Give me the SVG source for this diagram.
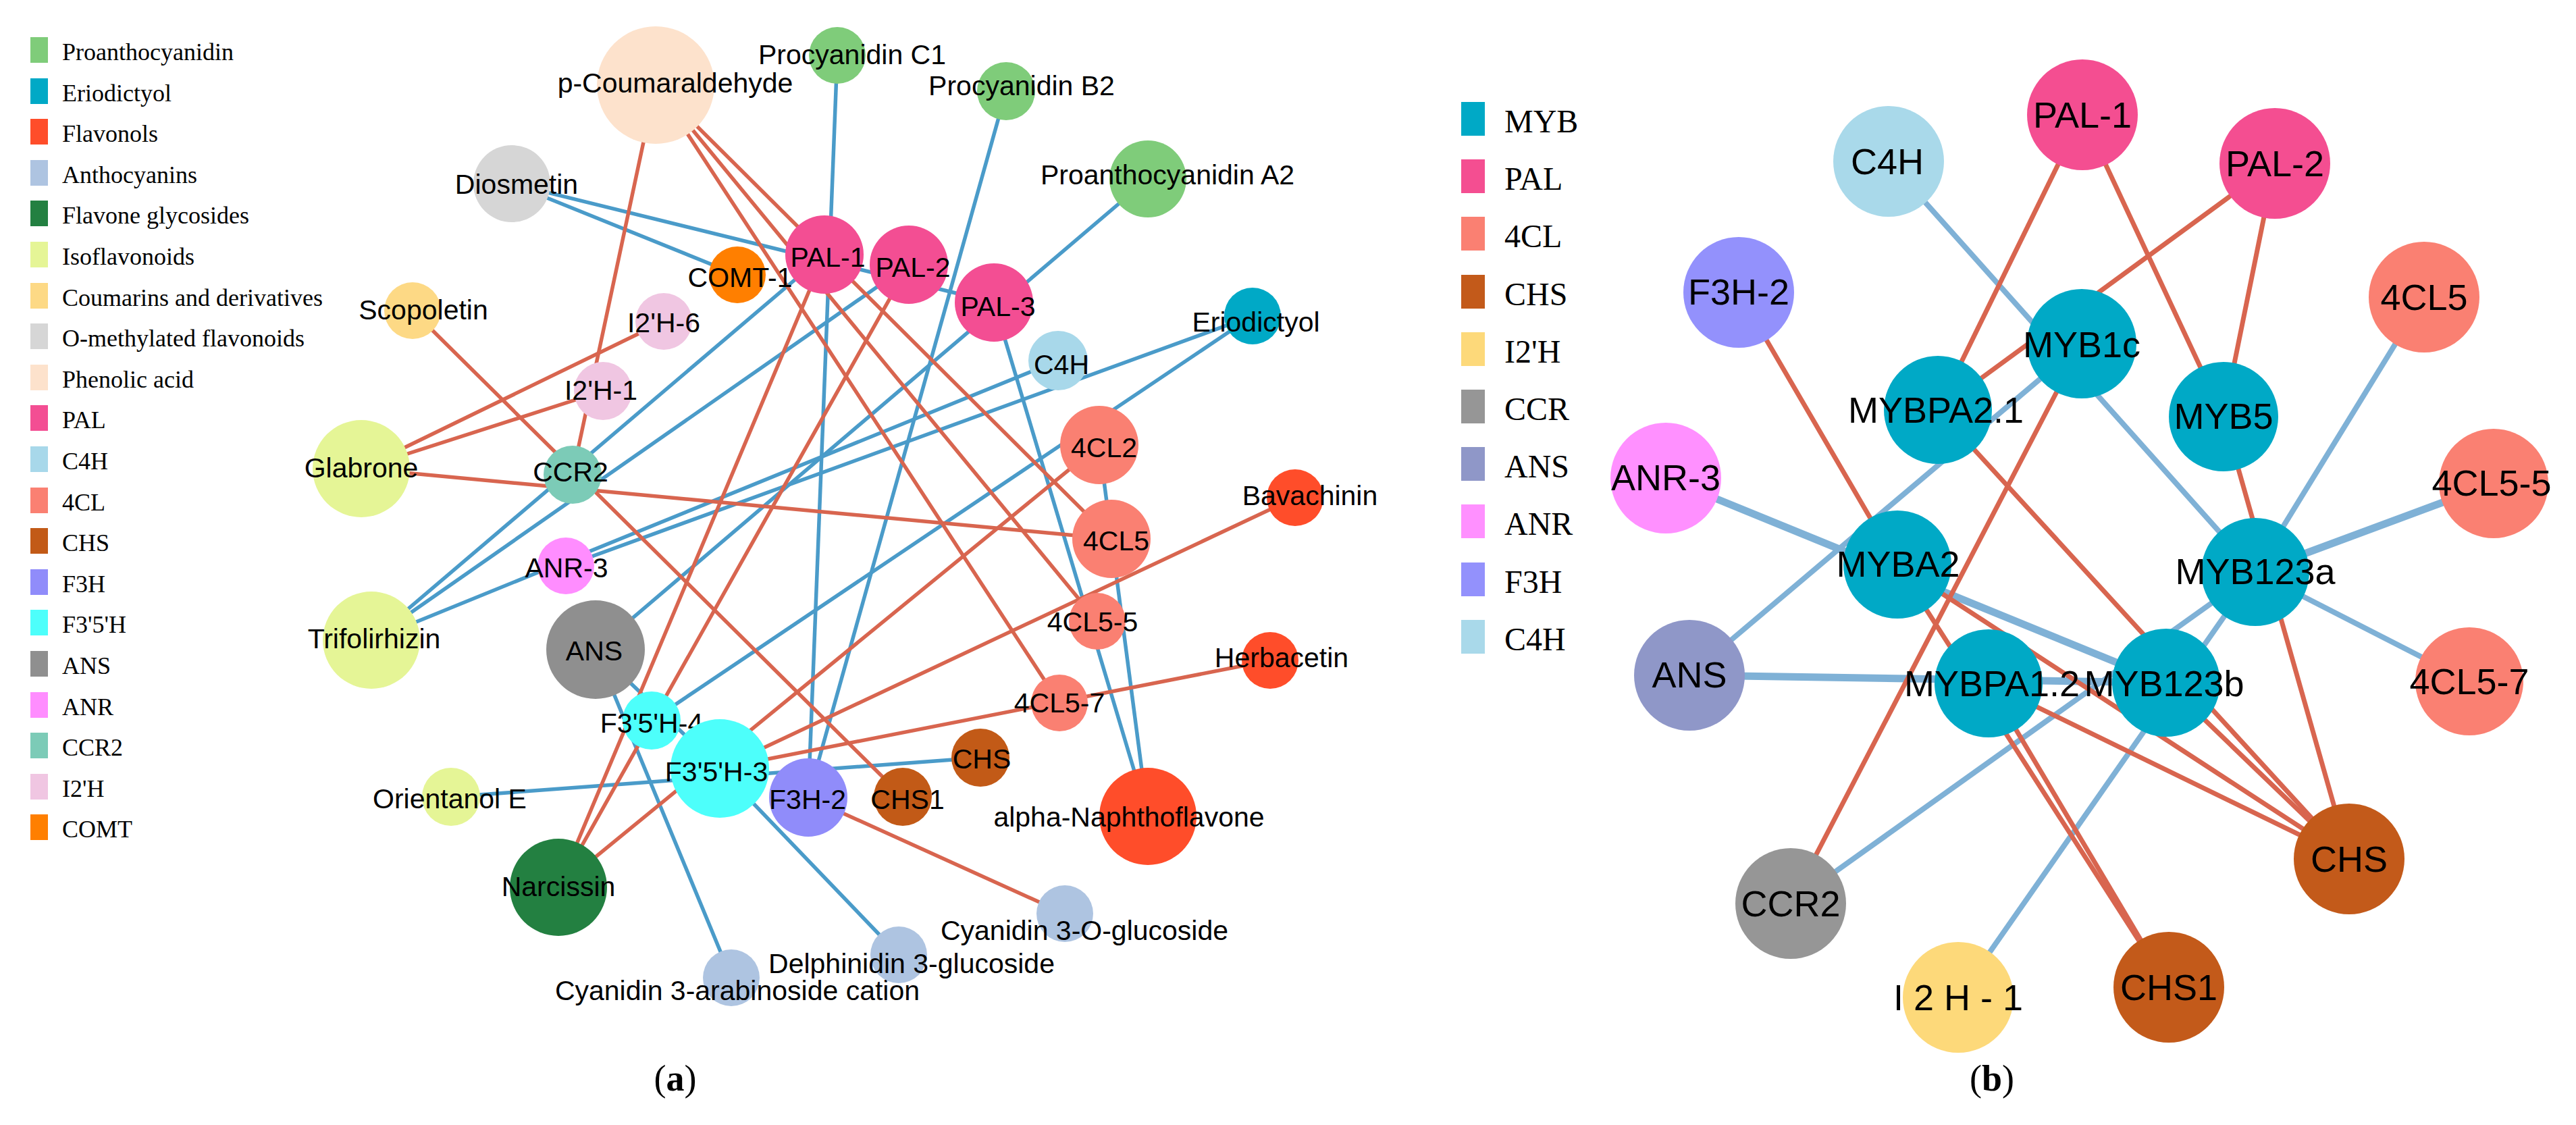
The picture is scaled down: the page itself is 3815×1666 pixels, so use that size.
<svg xmlns="http://www.w3.org/2000/svg" width="3815" height="1666" viewBox="0 0 3815 1666">
<style>
.lg{font-family:"Liberation Serif","Times New Roman",serif;fill:#000}
.la{font-family:"Liberation Sans",Arial,sans-serif;font-size:41px;text-anchor:middle;fill:#000}
.lb{font-family:"Liberation Sans",Arial,sans-serif;font-size:54px;text-anchor:middle;fill:#000}
.ab{stroke:#4a9bc9;stroke-width:5.5;fill:none}
.ar{stroke:#d8654f;stroke-width:5.5;fill:none}
.bb{stroke:#7fb1d6;stroke-width:8;fill:none}
.bbt{stroke:#7fb1d6;stroke-width:11;fill:none}
.br{stroke:#d8654f;stroke-width:7;fill:none}
</style>
<rect width="3815" height="1666" fill="#fff"/>
<g id="legend-a" class="lg" font-size="36">
<rect x="45" y="55" width="26" height="38" fill="#7fcc7a"/><text x="92" y="89">Proanthocyanidin</text>
<rect x="45" y="116" width="26" height="38" fill="#00a9c6"/><text x="92" y="150">Eriodictyol</text>
<rect x="45" y="176" width="26" height="38" fill="#ff4d2a"/><text x="92" y="210">Flavonols</text>
<rect x="45" y="237" width="26" height="38" fill="#aec4e1"/><text x="92" y="271">Anthocyanins</text>
<rect x="45" y="297" width="26" height="38" fill="#238041"/><text x="92" y="331">Flavone glycosides</text>
<rect x="45" y="358" width="26" height="38" fill="#e5f596"/><text x="92" y="392">Isoflavonoids</text>
<rect x="45" y="419" width="26" height="38" fill="#fdd985"/><text x="92" y="453">Coumarins and derivatives</text>
<rect x="45" y="479" width="26" height="38" fill="#d6d6d6"/><text x="92" y="513">O-methylated flavonoids</text>
<rect x="45" y="540" width="26" height="38" fill="#fde2cc"/><text x="92" y="574">Phenolic acid</text>
<rect x="45" y="600" width="26" height="38" fill="#f34e93"/><text x="92" y="634">PAL</text>
<rect x="45" y="661" width="26" height="38" fill="#a8d8ea"/><text x="92" y="695">C4H</text>
<rect x="45" y="722" width="26" height="38" fill="#fa8072"/><text x="92" y="756">4CL</text>
<rect x="45" y="782" width="26" height="38" fill="#c25a17"/><text x="92" y="816">CHS</text>
<rect x="45" y="843" width="26" height="38" fill="#908cfa"/><text x="92" y="877">F3H</text>
<rect x="45" y="903" width="26" height="38" fill="#4dfffb"/><text x="92" y="937">F3'5'H</text>
<rect x="45" y="964" width="26" height="38" fill="#8f8f8f"/><text x="92" y="998">ANS</text>
<rect x="45" y="1025" width="26" height="38" fill="#ff8dff"/><text x="92" y="1059">ANR</text>
<rect x="45" y="1085" width="26" height="38" fill="#7ccbb7"/><text x="92" y="1119">CCR2</text>
<rect x="45" y="1146" width="26" height="38" fill="#f0c6e2"/><text x="92" y="1180">I2'H</text>
<rect x="45" y="1206" width="26" height="38" fill="#ff7f00"/><text x="92" y="1240">COMT</text>
</g>
<g id="legend-b" class="lg" font-size="48">
<rect x="2164" y="151" width="35" height="50" fill="#00a9c6"/><text x="2228" y="196">MYB</text>
<rect x="2164" y="236" width="35" height="50" fill="#f44e91"/><text x="2228" y="281">PAL</text>
<rect x="2164" y="321" width="35" height="50" fill="#fa8072"/><text x="2228" y="366">4CL</text>
<rect x="2164" y="407" width="35" height="50" fill="#c35a1a"/><text x="2228" y="452">CHS</text>
<rect x="2164" y="492" width="35" height="50" fill="#fdd97a"/><text x="2228" y="537">I2'H</text>
<rect x="2164" y="577" width="35" height="50" fill="#969696"/><text x="2228" y="622">CCR</text>
<rect x="2164" y="662" width="35" height="50" fill="#8f97c8"/><text x="2228" y="707">ANS</text>
<rect x="2164" y="747" width="35" height="50" fill="#ff90ff"/><text x="2228" y="792">ANR</text>
<rect x="2164" y="833" width="35" height="50" fill="#9391fc"/><text x="2228" y="878">F3H</text>
<rect x="2164" y="918" width="35" height="50" fill="#a9d9ea"/><text x="2228" y="963">C4H</text>
</g>
<g id="edges-a">
<line class="ab" x1="758" y1="272" x2="1472" y2="448"/>
<line class="ab" x1="758" y1="272" x2="1092" y2="407"/>
<line class="ab" x1="1240" y1="82" x2="1197" y2="1181"/>
<line class="ab" x1="1490" y1="135" x2="1197" y2="1181"/>
<line class="ab" x1="1700" y1="265" x2="882" y2="962"/>
<line class="ab" x1="550" y1="948" x2="1221" y2="377"/>
<line class="ab" x1="550" y1="948" x2="1346" y2="392"/>
<line class="ab" x1="550" y1="948" x2="1567" y2="534"/>
<line class="ab" x1="838" y1="838" x2="1855" y2="468"/>
<line class="ab" x1="965" y1="1067" x2="1855" y2="468"/>
<line class="ab" x1="668" y1="1180" x2="1452" y2="1122"/>
<line class="ab" x1="882" y1="962" x2="1083" y2="1448"/>
<line class="ab" x1="882" y1="962" x2="1066" y2="1138"/>
<line class="ab" x1="1066" y1="1138" x2="1331" y2="1414"/>
<line class="ab" x1="1472" y1="448" x2="1700" y2="1209"/>
<line class="ab" x1="1628" y1="659" x2="1700" y2="1209"/>
<line class="ar" x1="971" y1="126" x2="848" y2="703"/>
<line class="ar" x1="971" y1="126" x2="1646" y2="798"/>
<line class="ar" x1="971" y1="126" x2="1625" y2="920"/>
<line class="ar" x1="971" y1="126" x2="1569" y2="1041"/>
<line class="ar" x1="535" y1="694" x2="983" y2="476"/>
<line class="ar" x1="535" y1="694" x2="893" y2="579"/>
<line class="ar" x1="535" y1="694" x2="1646" y2="798"/>
<line class="ar" x1="611" y1="460" x2="1337" y2="1180"/>
<line class="ar" x1="1221" y1="377" x2="827" y2="1314"/>
<line class="ar" x1="1346" y1="392" x2="827" y2="1314"/>
<line class="ar" x1="827" y1="1314" x2="1628" y2="659"/>
<line class="ar" x1="1066" y1="1138" x2="1918" y2="737"/>
<line class="ar" x1="1066" y1="1138" x2="1881" y2="978"/>
<line class="ar" x1="1197" y1="1181" x2="1577" y2="1353"/>
</g>
<g id="edges-b">
<line class="bb" x1="2797" y1="239" x2="3340" y2="847"/>
<line class="bb" x1="3590" y1="440" x2="3340" y2="847"/>
<line class="bbt" x1="3693" y1="716" x2="3340" y2="847"/>
<line class="bb" x1="3657" y1="1009" x2="3340" y2="847"/>
<line class="bbt" x1="2467" y1="708" x2="3208" y2="1011"/>
<line class="bbt" x1="2502" y1="1000" x2="3208" y2="1011"/>
<line class="bb" x1="2502" y1="1000" x2="3083" y2="509"/>
<line class="bb" x1="2652" y1="1338" x2="3340" y2="847"/>
<line class="bb" x1="2900" y1="1477" x2="3340" y2="847"/>
<line class="br" x1="3084" y1="170" x2="2870" y2="607"/>
<line class="br" x1="3084" y1="170" x2="3293" y2="617"/>
<line class="br" x1="3369" y1="242" x2="2870" y2="607"/>
<line class="br" x1="3369" y1="242" x2="3293" y2="617"/>
<line class="br" x1="2575" y1="433" x2="2810" y2="836"/>
<line class="br" x1="2652" y1="1338" x2="3083" y2="509"/>
<line class="br" x1="2870" y1="607" x2="3479" y2="1272"/>
<line class="br" x1="3293" y1="617" x2="3479" y2="1272"/>
<line class="br" x1="2810" y1="836" x2="3212" y2="1462"/>
<line class="br" x1="2810" y1="836" x2="3479" y2="1272"/>
<line class="br" x1="2945" y1="1012" x2="3479" y2="1272"/>
<line class="br" x1="2945" y1="1012" x2="3212" y2="1462"/>
<line class="br" x1="3208" y1="1011" x2="3479" y2="1272"/>
</g>
<g id="a-pcoum"><circle cx="971" cy="126" r="87" fill="#fde2cc"/><text class="la" x="1000" y="137">p-Coumaraldehyde</text></g>
<g id="a-pc1"><circle cx="1240" cy="82" r="42" fill="#7fcc7a"/><text class="la" x="1262" y="95">Procyanidin C1</text></g>
<g id="a-pb2"><circle cx="1490" cy="135" r="43" fill="#7fcc7a"/><text class="la" x="1513" y="141">Procyanidin B2</text></g>
<g id="a-pa2"><circle cx="1700" cy="265" r="57" fill="#7fcc7a"/><text class="la" x="1729" y="273">Proanthocyanidin A2</text></g>
<g id="a-diosmetin"><circle cx="758" cy="272" r="57" fill="#d6d6d6"/><text class="la" x="765" y="287">Diosmetin</text></g>
<g id="a-pal1"><circle cx="1221" cy="377" r="58" fill="#f34e93"/><text class="la" x="1226" y="395">PAL-1</text></g>
<g id="a-comt1"><circle cx="1092" cy="407" r="42" fill="#ff7f00"/><text class="la" x="1096" y="425">COMT-1</text></g>
<g id="a-pal2"><circle cx="1346" cy="392" r="58" fill="#f34e93"/><text class="la" x="1352" y="410">PAL-2</text></g>
<g id="a-pal3"><circle cx="1472" cy="448" r="58" fill="#f34e93"/><text class="la" x="1478" y="468">PAL-3</text></g>
<g id="a-scopoletin"><circle cx="611" cy="460" r="42" fill="#fdd985"/><text class="la" x="627" y="473">Scopoletin</text></g>
<g id="a-i2h6"><circle cx="983" cy="476" r="42" fill="#f0c6e2"/><text class="la" x="983" y="492">I2'H-6</text></g>
<g id="a-i2h1"><circle cx="893" cy="579" r="43" fill="#f0c6e2"/><text class="la" x="890" y="592">I2'H-1</text></g>
<g id="a-ccr2"><circle cx="848" cy="703" r="43" fill="#7ccbb7"/><text class="la" x="845" y="713">CCR2</text></g>
<g id="a-glabrone"><circle cx="535" cy="694" r="72" fill="#e5f596"/><text class="la" x="535" y="707">Glabrone</text></g>
<g id="a-anr3"><circle cx="838" cy="838" r="42" fill="#ff8dff"/><text class="la" x="839" y="855">ANR-3</text></g>
<g id="a-trifolirhizin"><circle cx="550" cy="948" r="72" fill="#e5f596"/><text class="la" x="554" y="960">Trifolirhizin</text></g>
<g id="a-ans"><circle cx="882" cy="962" r="73" fill="#8f8f8f"/><text class="la" x="880" y="978">ANS</text></g>
<g id="a-orientanol"><circle cx="668" cy="1180" r="43" fill="#e5f596"/><text class="la" x="666" y="1197">Orientanol E</text></g>
<g id="a-f35h4"><circle cx="965" cy="1067" r="43" fill="#4dfffb"/><text class="la" x="965" y="1085">F3'5'H-4</text></g>
<g id="a-f35h3"><circle cx="1066" cy="1138" r="73" fill="#4dfffb"/><text class="la" x="1061" y="1157">F3'5'H-3</text></g>
<g id="a-f3h2"><circle cx="1197" cy="1181" r="58" fill="#908cfa"/><text class="la" x="1196" y="1198">F3H-2</text></g>
<g id="a-chs1"><circle cx="1337" cy="1180" r="43" fill="#c25a17"/><text class="la" x="1344" y="1198">CHS1</text></g>
<g id="a-chs"><circle cx="1452" cy="1122" r="43" fill="#c25a17"/><text class="la" x="1454" y="1138">CHS</text></g>
<g id="a-c4h"><circle cx="1567" cy="534" r="44" fill="#a8d8ea"/><text class="la" x="1572" y="554">C4H</text></g>
<g id="a-4cl2"><circle cx="1628" cy="659" r="58" fill="#fa8072"/><text class="la" x="1635" y="677">4CL2</text></g>
<g id="a-4cl5"><circle cx="1646" cy="798" r="58" fill="#fa8072"/><text class="la" x="1653" y="815">4CL5</text></g>
<g id="a-4cl5-5"><circle cx="1625" cy="920" r="42" fill="#fa8072"/><text class="la" x="1618" y="935">4CL5-5</text></g>
<g id="a-4cl5-7"><circle cx="1569" cy="1041" r="42" fill="#fa8072"/><text class="la" x="1569" y="1055">4CL5-7</text></g>
<g id="a-eriodictyol"><circle cx="1855" cy="468" r="42" fill="#00a9c6"/><text class="la" x="1860" y="491">Eriodictyol</text></g>
<g id="a-bavachinin"><circle cx="1918" cy="737" r="42" fill="#ff4d2a"/><text class="la" x="1940" y="748">Bavachinin</text></g>
<g id="a-herbacetin"><circle cx="1881" cy="978" r="42" fill="#ff4d2a"/><text class="la" x="1898" y="988">Herbacetin</text></g>
<g id="a-alphanaphtho"><circle cx="1700" cy="1209" r="72" fill="#ff4d2a"/><text class="la" x="1672" y="1224">alpha-Naphthoflavone</text></g>
<g id="a-narcissin"><circle cx="827" cy="1314" r="72" fill="#238041"/><text class="la" x="827" y="1327">Narcissin</text></g>
<g id="a-cy3arab"><circle cx="1083" cy="1448" r="42" fill="#aec4e1"/><text class="la" x="1092" y="1481">Cyanidin 3-arabinoside cation</text></g>
<g id="a-delph"><circle cx="1331" cy="1414" r="42" fill="#aec4e1"/><text class="la" x="1350" y="1441">Delphinidin 3-glucoside</text></g>
<g id="a-cy3og"><circle cx="1577" cy="1353" r="42" fill="#aec4e1"/><text class="la" x="1606" y="1392">Cyanidin 3-O-glucoside</text></g>
<g id="b-c4h"><circle cx="2797" cy="239" r="82" fill="#a9d9ea"/><text class="lb" x="2795" y="258">C4H</text></g>
<g id="b-pal1"><circle cx="3084" cy="170" r="82" fill="#f44e91"/><text class="lb" x="3084" y="189">PAL-1</text></g>
<g id="b-pal2"><circle cx="3369" cy="242" r="82" fill="#f44e91"/><text class="lb" x="3369" y="261">PAL-2</text></g>
<g id="b-f3h2"><circle cx="2575" cy="433" r="82" fill="#9391fc"/><text class="lb" x="2575" y="451">F3H-2</text></g>
<g id="b-4cl5"><circle cx="3590" cy="440" r="82" fill="#fa8072"/><text class="lb" x="3590" y="459">4CL5</text></g>
<g id="b-myb1c"><circle cx="3083" cy="509" r="81" fill="#00a9c6"/><text class="lb" x="3083" y="529">MYB1c</text></g>
<g id="b-mybpa21"><circle cx="2870" cy="607" r="80" fill="#00a9c6"/><text class="lb" x="2867" y="626">MYBPA2.1</text></g>
<g id="b-myb5"><circle cx="3293" cy="617" r="81" fill="#00a9c6"/><text class="lb" x="3293" y="635">MYB5</text></g>
<g id="b-anr3"><circle cx="2467" cy="708" r="82" fill="#ff90ff"/><text class="lb" x="2467" y="726">ANR-3</text></g>
<g id="b-4cl55"><circle cx="3693" cy="716" r="81" fill="#fa8072"/><text class="lb" x="3690" y="734">4CL5-5</text></g>
<g id="b-myba2"><circle cx="2810" cy="836" r="80" fill="#00a9c6"/><text class="lb" x="2811" y="854">MYBA2</text></g>
<g id="b-myb123a"><circle cx="3340" cy="847" r="80" fill="#00a9c6"/><text class="lb" x="3340" y="865">MYB123a</text></g>
<g id="b-ans"><circle cx="2502" cy="1000" r="82" fill="#8f97c8"/><text class="lb" x="2502" y="1018">ANS</text></g>
<g id="b-mybpa12"><circle cx="2945" cy="1012" r="80" fill="#00a9c6"/><text class="lb" x="2950" y="1031">MYBPA1.2</text></g>
<g id="b-myb123b"><circle cx="3208" cy="1011" r="80" fill="#00a9c6"/><text class="lb" x="3205" y="1031">MYB123b</text></g>
<g id="b-4cl57"><circle cx="3657" cy="1009" r="80" fill="#fa8072"/><text class="lb" x="3657" y="1028">4CL5-7</text></g>
<g id="b-ccr2"><circle cx="2652" cy="1338" r="82" fill="#969696"/><text class="lb" x="2652" y="1357">CCR2</text></g>
<g id="b-chs"><circle cx="3479" cy="1272" r="82" fill="#c35a1a"/><text class="lb" x="3479" y="1291">CHS</text></g>
<g id="b-i2h1"><circle cx="2900" cy="1477" r="82" fill="#fdd97a"/><text class="lb" x="2900" y="1496">I 2 H - 1</text></g>
<g id="b-chs1"><circle cx="3212" cy="1462" r="82" fill="#c35a1a"/><text class="lb" x="3212" y="1481">CHS1</text></g>
<g id="captions" class="lg" font-size="54" text-anchor="middle">
<text x="1000" y="1615">(<tspan font-weight="bold">a</tspan>)</text>
<text x="2950" y="1615">(<tspan font-weight="bold">b</tspan>)</text>
</g>
</svg>
